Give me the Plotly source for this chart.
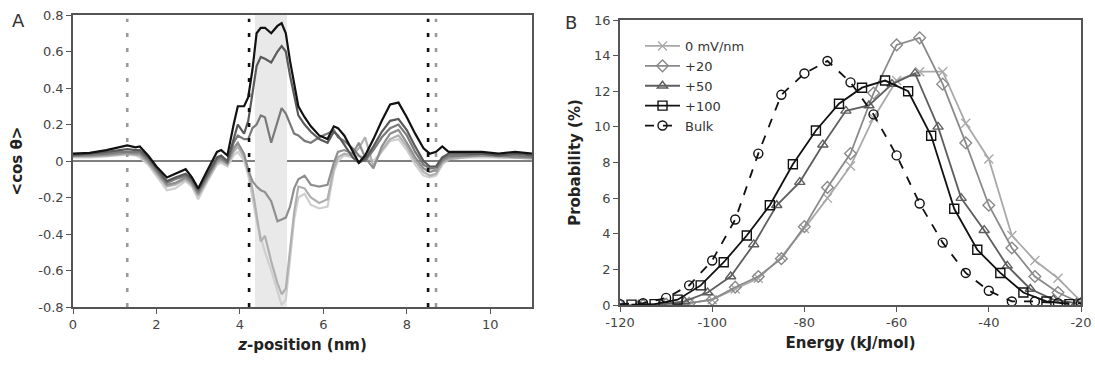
import plotly.graph_objects as go

# ---------------- Panel A data ----------------
z_pos = [0, 0.4, 0.8, 1.1, 1.3, 1.5, 1.6, 1.8, 2.0, 2.25, 2.45, 2.7, 2.85, 3.0, 3.2, 3.45, 3.55, 3.7,
         3.85, 3.95, 4.1, 4.2, 4.3, 4.4, 4.5, 4.6, 4.75, 4.9, 5.0, 5.1, 5.2, 5.3, 5.4, 5.55, 5.7, 5.9,
         6.1, 6.25, 6.35, 6.5, 6.7, 6.85, 7.0, 7.2, 7.4, 7.6, 7.8, 8.0, 8.2, 8.4, 8.55, 8.7, 8.85,
         9.0, 9.4, 9.8, 10.2, 10.6, 11.0]

cos_s1 = [0.04, 0.045, 0.06, 0.075, 0.085, 0.075, 0.08, 0.03, -0.03, -0.09, -0.07, -0.045, -0.09, -0.15,
          -0.06, 0.05, 0.06, 0.03, 0.2, 0.3, 0.3, 0.35, 0.5, 0.7, 0.73, 0.73, 0.70, 0.74, 0.755, 0.7,
          0.55, 0.42, 0.3, 0.24, 0.19, 0.14, 0.12, 0.19, 0.18, 0.14, 0.05, -0.01, 0.03, 0.12, 0.22, 0.31,
          0.32, 0.24, 0.15, 0.07, 0.04, 0.05, 0.08, 0.05, 0.05, 0.05, 0.04, 0.05, 0.04]
cos_s2 = [0.035, 0.04, 0.05, 0.06, 0.065, 0.06, 0.06, 0.02, -0.04, -0.11, -0.09, -0.07, -0.1, -0.16,
          -0.08, 0.02, 0.03, 0.0, 0.12, 0.2, 0.15, 0.22, 0.37, 0.52, 0.57, 0.56, 0.54, 0.6, 0.63, 0.6,
          0.47, 0.35, 0.25, 0.2, 0.16, 0.12, 0.1, 0.16, 0.14, 0.09, 0.02, -0.01, 0.01, 0.08, 0.16, 0.22,
          0.23, 0.17, 0.08, 0.0, -0.03, -0.03, 0.02, 0.04, 0.04, 0.04, 0.03, 0.04, 0.03]
cos_s3 = [0.03, 0.035, 0.04, 0.05, 0.05, 0.05, 0.05, 0.01, -0.05, -0.12, -0.1, -0.08, -0.11, -0.17,
          -0.09, 0.01, 0.02, -0.01, 0.1, 0.14, 0.12, 0.12, 0.18, 0.2, 0.25, 0.24, 0.1, 0.22, 0.29, 0.26,
          0.2, 0.15, 0.14, 0.11, 0.1, 0.13, 0.15, 0.17, 0.13, 0.11, 0.07, 0.03, 0.0, 0.06, 0.13, 0.18,
          0.2, 0.14, 0.05, -0.02, -0.04, -0.04, 0.01, 0.03, 0.03, 0.04, 0.03, 0.03, 0.02]
cos_s4 = [0.03, 0.03, 0.035, 0.04, 0.045, 0.04, 0.04, 0.0, -0.06, -0.13, -0.12, -0.09, -0.12, -0.18,
          -0.1, 0.0, 0.01, -0.01, 0.07, 0.1, 0.04, -0.05, -0.11, -0.14, -0.16, -0.17, -0.22, -0.33, -0.32,
          -0.31, -0.25, -0.15, -0.1, -0.08, -0.13, -0.14, -0.13, -0.01, 0.05, 0.06, 0.04, 0.1, 0.02,
          -0.04, 0.08, 0.15, 0.17, 0.1, 0.02, -0.04, -0.06, -0.05, 0.0, 0.02, 0.03, 0.03, 0.03, 0.02, 0.02]
cos_s5 = [0.025, 0.025, 0.03, 0.035, 0.04, 0.035, 0.03, -0.01, -0.07, -0.14, -0.13, -0.1, -0.13, -0.19,
          -0.11, -0.01, 0.0, -0.02, 0.05, 0.08, 0.02, -0.05, -0.15, -0.3, -0.44, -0.41, -0.55, -0.67,
          -0.73, -0.7, -0.5, -0.28, -0.14, -0.15, -0.2, -0.23, -0.21, -0.04, 0.02, 0.04, 0.03, 0.07,
          0.13, -0.03, 0.06, 0.12, 0.14, 0.08, 0.0, -0.06, -0.08, -0.07, -0.01, 0.01, 0.02, 0.03, 0.02,
          0.02, 0.02]
cos_s6 = [0.02, 0.02, 0.025, 0.03, 0.035, 0.03, 0.02, -0.02, -0.08, -0.16, -0.15, -0.11, -0.14, -0.21,
          -0.12, -0.02, -0.01, -0.03, 0.03, 0.05, 0.0, -0.08, -0.2, -0.33, -0.42, -0.5, -0.6, -0.72,
          -0.79, -0.76, -0.55, -0.32, -0.2, -0.18, -0.24, -0.26, -0.25, -0.06, 0.0, 0.03, 0.02, 0.03,
          0.02, 0.0, 0.05, 0.11, 0.12, 0.06, -0.02, -0.08, -0.09, -0.08, -0.02, 0.01, 0.02, 0.02, 0.02,
          0.02, 0.01]

a_series = [cos_s6, cos_s5, cos_s4, cos_s3, cos_s2, cos_s1]
a_colors = ["#cfcfcf", "#b0b0b0", "#8f8f8f", "#7a7a7a", "#5a5a5a", "#111111"]

a_xticks = [0, 2, 4, 6, 8, 10]
a_yticks = [-0.8, -0.6, -0.4, -0.2, 0, 0.2, 0.4, 0.6, 0.8]
a_ytick_labels = ["-0.8", "-0.6", "-0.4", "-0.2", "0", "0.2", "0.4", "0.6", "0.8"]

# ---------------- Panel B data ----------------
energy_5 = [-120, -115, -110, -105, -100, -95, -90, -85, -80, -75, -70, -65, -60, -55, -50, -45,
            -40, -35, -30, -25, -20]
prob_0mv = [0.0, 0.0, 0.0, 0.1, 0.3, 0.9, 1.5, 2.7, 4.3, 6.0, 7.8, 10.5, 12.6, 13.1, 13.1, 10.2,
            8.2, 3.9, 2.5, 1.5, 0.2]
prob_20 = [0.0, 0.0, 0.05, 0.1, 0.3, 1.0, 1.6, 2.6, 4.4, 6.6, 8.5, 11.9, 14.6, 15.0, 12.4, 9.1,
           5.6, 3.2, 1.6, 0.7, 0.1]
energy_50 = [-116, -111, -106, -101, -96, -91, -86, -81, -76, -71, -66, -61, -56, -51, -46, -41,
             -36, -31, -26, -21]
prob_50 = [0.0, 0.05, 0.2, 0.7, 1.6, 3.4, 5.6, 6.9, 9.0, 10.9, 11.2, 12.4, 13.0, 10.0, 6.0, 4.2,
           2.2, 0.9, 0.3, 0.1]
energy_100 = [-117.5, -112.5, -107.5, -102.5, -97.5, -92.5, -87.5, -82.5, -77.5, -72.5, -67.5,
              -62.5, -57.5, -52.5, -47.5, -42.5, -37.5, -32.5, -27.5, -22.5]
prob_100 = [0.02, 0.05, 0.3, 1.1, 2.4, 3.9, 5.6, 7.9, 9.8, 11.3, 12.2, 12.6, 12.0, 9.5, 5.4, 3.1,
            1.8, 0.7, 0.2, 0.05]
prob_bulk = [0.05, 0.1, 0.4, 1.1, 2.5, 4.8, 8.5, 11.8, 13.0, 13.7, 12.5, 10.7, 8.4, 5.7, 3.5, 1.8,
             0.8, 0.2, 0.2, 0.1, 0.1]

b_xticks = [-120, -100, -80, -60, -40, -20]
b_xtick_labels = ["-120", "-100", "-80", "-60", "-40", "-20"]
b_yticks = [0, 2, 4, 6, 8, 10, 12, 14, 16]

# ---------------- Figure ----------------
W, H = 1095, 366
FONT = "DejaVu Sans"
AX = "#555555"
TICKC = "#444444"

fig = go.Figure()

for vals, col in zip(a_series, a_colors):
    fig.add_trace(go.Scatter(x=z_pos, y=vals, mode="lines", line=dict(color=col, width=2.2),
                             xaxis="x", yaxis="y", showlegend=False, hoverinfo="skip"))

b_specs = [
    ("0 mV/nm", energy_5, prob_0mv, "#a9a9a9", "x-thin-open", "solid"),
    ("+20", energy_5, prob_20, "#8a8a8a", "diamond-open", "solid"),
    ("+50", energy_50, prob_50, "#5e5e5e", "triangle-up-open", "solid"),
    ("+100", energy_100, prob_100, "#111111", "square-open", "solid"),
    ("Bulk", energy_5, prob_bulk, "#111111", "circle-open", "dash"),
]
for name, xs, ys, col, sym, dash in b_specs:
    fig.add_trace(go.Scatter(
        x=xs, y=ys, mode="lines+markers", name=name,
        line=dict(color=col, width=1.8, dash=dash),
        marker=dict(symbol=sym, size=9, color=col, line=dict(color=col, width=1.4)),
        xaxis="x2", yaxis="y2"))

# shapes panel A
shapes = [
    dict(type="line", xref="x", yref="y", x0=0, x1=11, y0=0, y1=0,
         line=dict(color="#555555", width=1.6), layer="below"),
    dict(type="rect", xref="x", yref="y", x0=4.36, x1=5.13, y0=-0.8, y1=0.8,
         fillcolor="#e9e9e9", line=dict(width=0), layer="below"),
]
for xv, col in [(1.3, "#9a9a9a"), (4.22, "#111111"), (8.51, "#111111"), (8.7, "#9a9a9a")]:
    shapes.append(dict(type="line", xref="x", yref="y", x0=xv, x1=xv, y0=-0.8, y1=0.78,
                       line=dict(color=col, width=2.6, dash="4px,11px")))

def axis_common():
    return dict(showline=True, linecolor=AX, linewidth=1.6, mirror=True,
                ticks="outside", ticklen=5, tickcolor=AX, tickwidth=1.4,
                showgrid=False, zeroline=False, automargin=False,
                tickfont=dict(family=FONT, size=13, color=TICKC))

fig.update_layout(
    width=W, height=H,
    margin=dict(l=0, r=0, t=0, b=0),
    paper_bgcolor="white", plot_bgcolor="white",
    font=dict(family=FONT, color="#222222"),
    shapes=shapes,
    xaxis=dict(domain=[73 / W, 532 / W], range=[0, 11], tickvals=a_xticks, anchor="y",
               title=dict(text="<b><i>z</i>-position (nm)</b>", font=dict(size=15, color="#222"),
                          standoff=8),
               **axis_common()),
    yaxis=dict(domain=[(H - 307) / H, (H - 15) / H], range=[-0.8, 0.8], tickvals=a_yticks,
               ticktext=a_ytick_labels, anchor="x",
               title=dict(text="<b>&lt;cos θ&gt;</b>", font=dict(size=15, color="#222"),
                          standoff=12),
               **axis_common()),
    xaxis2=dict(domain=[620 / W, 1081 / W], range=[-120, -20], tickvals=b_xticks,
                ticktext=b_xtick_labels, anchor="y2",
                title=dict(text="<b>Energy (kJ/mol)</b>", font=dict(size=15, color="#222"),
                           standoff=8),
                **axis_common()),
    yaxis2=dict(domain=[(H - 305) / H, (H - 20) / H], range=[0, 16], tickvals=b_yticks,
                anchor="x2",
                title=dict(text="<b>Probability (%)</b>", font=dict(size=15, color="#222"),
                           standoff=10),
                **axis_common()),
    legend=dict(x=640 / W, y=(H - 31) / H, xanchor="left", yanchor="top",
                bgcolor="rgba(0,0,0,0)", font=dict(family=FONT, size=13, color="#333"),
                itemwidth=35, tracegroupgap=0),
    annotations=[
        dict(text="A", x=10 / W, y=(H - 8) / H, xref="paper", yref="paper", showarrow=False,
             xanchor="left", yanchor="top", font=dict(family=FONT, size=18, color="#333")),
        dict(text="B", x=563 / W, y=(H - 10) / H, xref="paper", yref="paper", showarrow=False,
             xanchor="left", yanchor="top", font=dict(family=FONT, size=18, color="#333")),
    ],
)

fig.write_html("out.html")
